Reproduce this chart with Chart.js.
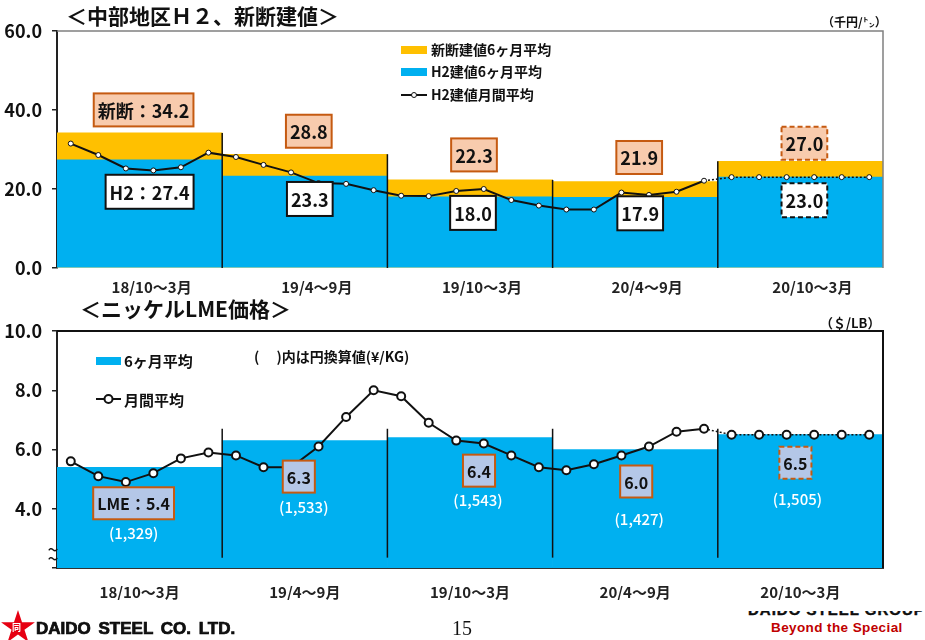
<!DOCTYPE html>
<html lang="ja">
<head>
<meta charset="UTF-8">
<title>中部地区H2、新断建値 / ニッケルLME価格</title>
<script src="https://cdn.jsdelivr.net/npm/chart.js"></script>
<style>
    body {
        margin: 0;
        width: 925px;
        height: 640px;
        background: #fff;
        overflow: hidden;
        position: relative;
        font-family: 'Noto Sans CJK JP', 'Noto Sans', sans-serif;
        color: #111;
    }
    .box { position: absolute; left: 0; width: 925px; height: 300px; }
    .title { position: absolute; font-weight: bold; font-size: 21px; line-height: 1; white-space: nowrap; }
    .unit { position: absolute; font-weight: bold; font-size: 12px; line-height: 1; white-space: nowrap; }
    .footer { position: absolute; white-space: nowrap; line-height: 1; }
</style>
</head>
<body>
<div class="box" style="top:0"><canvas id="h2Chart"></canvas></div>
<div class="box" style="top:300px"><canvas id="niChart"></canvas></div>

<div class="title" style="left:66px; top:5px">＜中部地区Ｈ２、新断建値＞</div>
<div class="unit" style="left:822px; top:16px">（千円/㌧）</div>
<div class="title" style="left:80px; top:298px">＜ニッケルLME価格＞</div>
<div class="unit" style="left:820px; top:316px; font-size:13px">（＄/LB）</div>

<div class="footer" style="left:0; top:606px; color:#e60012; font-size:36px">★</div>
<div class="footer" style="left:12px; top:623px; color:#fff; font-size:9px; font-weight:bold">同</div>
<div class="footer" style="left:36px; top:620px; font-family:'Liberation Sans', Arial, sans-serif; font-weight:bold; font-size:17px; word-spacing:3px; -webkit-text-stroke:0.7px #000">DAIDO STEEL CO. LTD.</div>
<div class="footer" style="left:452px; top:618px; font-family:'Liberation Serif', serif; font-size:20px">15</div>
<div class="footer" style="left:748px; top:611px; width:176px; height:7px; overflow:hidden">
    <div style="margin-top:-9px; font-family:'Liberation Sans', Arial, sans-serif; font-weight:bold; font-size:15px; letter-spacing:1px; -webkit-text-stroke:0.4px #000">DAIDO STEEL GROUP</div>
</div>
<div class="footer" style="left:771px; top:621px; color:#c00000; font-family:'Liberation Sans', Arial, sans-serif; font-weight:bold; font-size:13.5px; letter-spacing:0.4px">Beyond the Special</div>

<script>
// half-year periods (the last one is an estimate)
const periods = ['18/10～3月', '19/4～9月', '19/10～3月', '20/4～9月', '20/10～3月'];
const estimateIdx = 4;

// H2 / 新断 (千円/㌧)
const scrapAvg = [34.2, 28.8, 22.3, 21.9, 27.0];
const h2Avg = [27.4, 23.3, 18.0, 17.9, 23.0];
const h2Monthly = [31.5, 28.6, 25.2, 24.7, 25.5, 29.2,
                   28.1, 26.1, 24.2, 21.5, 21.3, 19.7,
                   18.3, 18.2, 19.5, 20.0, 17.2, 15.8,
                   14.8, 14.8, 19.1, 18.5, 19.3, 22.1,
                   23.0, 23.0, 23.0, 23.0, 23.0, 23.0];
const h2Ticks = [0, 20, 40, 60];

// nickel LME ($/LB), yen equivalent (¥/KG)
const nickelAvg = [5.4, 6.3, 6.4, 6.0, 6.5];
const nickelYen = ['(1,329)', '(1,533)', '(1,543)', '(1,427)', '(1,505)'];
const nickelMonthly = [5.6, 5.1, 4.9, 5.2, 5.7, 5.9,
                       5.8, 5.4, 5.4, 6.1, 7.1, 8.0,
                       7.8, 6.9, 6.3, 6.2, 5.8, 5.4,
                       5.3, 5.5, 5.8, 6.1, 6.6, 6.7,
                       6.5, 6.5, 6.5, 6.5, 6.5, 6.5];
const nickelTicks = [2, 4, 6, 8, 10];

const BLUE = '#00b0f0';
const YELLOW = '#ffc000';
const PEACH = '#f8cbad';
const RUST = '#c55a11';
const LILAC = '#b4c7e7';
const FONT = "'Noto Sans CJK JP', 'Noto Sans', sans-serif";

Chart.defaults.font.family = FONT;
Chart.defaults.color = '#111';

// months go on a hidden linear axis so six points sit inside each period bar
const toPoints = arr => arr.map((v, i) => ({ x: i, y: v }));
const lastActual = estimateIdx * 6 - 1;

function drawTag(ctx, text, cx, cy, st) {
    ctx.save();
    ctx.font = st.font;
    const w = ctx.measureText(text).width + st.padX * 2;
    const h = st.h;
    ctx.fillStyle = st.fill;
    ctx.fillRect(cx - w / 2, cy - h / 2, w, h);
    ctx.lineWidth = st.lineWidth;
    ctx.strokeStyle = st.stroke;
    ctx.setLineDash(st.dashed ? [5, 3] : []);
    ctx.strokeRect(cx - w / 2, cy - h / 2, w, h);
    ctx.setLineDash([]);
    ctx.fillStyle = st.color || '#111';
    ctx.textAlign = 'center';
    ctx.textBaseline = 'middle';
    ctx.fillText(text, cx, cy + 1);
    ctx.restore();
}

function drawFrame(ctx, area, color, width) {
    ctx.save();
    ctx.strokeStyle = color;
    ctx.lineWidth = width;
    ctx.beginPath();
    ctx.moveTo(area.left, area.top);
    ctx.lineTo(area.right, area.top);
    ctx.lineTo(area.right, area.bottom);
    ctx.stroke();
    ctx.restore();
}

function drawSeparators(chart, topVal, bottomVal) {
    const { ctx, scales: { x, y } } = chart;
    ctx.save();
    ctx.strokeStyle = '#111';
    ctx.lineWidth = 1.5;
    for (let i = 0; i < periods.length - 1; i++) {
        const px = (x.getPixelForValue(i) + x.getPixelForValue(i + 1)) / 2;
        ctx.beginPath();
        ctx.moveTo(px, y.getPixelForValue(topVal(i)));
        ctx.lineTo(px, y.getPixelForValue(bottomVal));
        ctx.stroke();
    }
    ctx.restore();
}

function lineSample(ctx, x0, x1, y, r, lw) {
    ctx.save();
    ctx.strokeStyle = '#111';
    ctx.lineWidth = lw;
    ctx.beginPath();
    ctx.moveTo(x0, y);
    ctx.lineTo(x1, y);
    ctx.stroke();
    ctx.beginPath();
    ctx.arc((x0 + x1) / 2, y, r, 0, Math.PI * 2);
    ctx.fillStyle = '#fff';
    ctx.fill();
    ctx.lineWidth = r > 3 ? 2 : 1;
    ctx.stroke();
    ctx.restore();
}

function legendText(ctx, text, x, y, size) {
    ctx.save();
    ctx.font = 'bold ' + size + 'px ' + FONT;
    ctx.fillStyle = '#111';
    ctx.textBaseline = 'middle';
    ctx.fillText(text, x, y);
    ctx.restore();
}

function scaleOptions(yMin, yMax, ticks, fmt, xPad, xOffset, xBorder) {
    return {
        x: {
            type: 'category',
            offset: true,
            grid: { display: false },
            border: { display: xBorder, color: '#333', width: 2 },
            ticks: { font: { size: 15, weight: 'bold' }, color: '#222', padding: xPad, labelOffset: xOffset },
            afterFit: s => { s.height = 32; }
        },
        xm: { type: 'linear', min: -0.5, max: 29.5, display: false },
        y: {
            min: yMin,
            max: yMax,
            afterBuildTicks: s => { s.ticks = ticks.map(v => ({ value: v })); },
            ticks: { font: { size: 18, weight: 'bold' }, color: '#111', padding: 10, callback: fmt },
            grid: { drawOnChartArea: false, tickLength: 5, color: '#222', lineWidth: 1.5 },
            border: { color: '#222', width: 2 },
            afterFit: s => { s.width = 57; }
        }
    };
}

function barSet(data, color, order) {
    return {
        type: 'bar', data, backgroundColor: color, borderWidth: 0, order,
        grouped: false, barPercentage: 1, categoryPercentage: 1
    };
}

function monthlyLine(data, radius, width) {
    return {
        type: 'line', xAxisID: 'xm', data: toPoints(data), order: 1,
        borderColor: '#111', borderWidth: width, tension: 0,
        pointRadius: radius, pointBackgroundColor: '#fff', pointBorderColor: '#111',
        pointBorderWidth: radius > 3 ? 2 : 1,
        segment: {
            borderDash: c => c.p0DataIndex >= lastActual ? [2, 2] : undefined,
            borderWidth: c => c.p0DataIndex >= lastActual ? 1.5 : undefined
        }
    };
}

// ---------- H2 / 新断 ----------
const scrapDy = [-23, -23, -25, -24, -18];
const h2Dx = [10, 5, 3, 5, 4];
const h2Dy = [32, 23, 16, 16, 23];

new Chart(document.getElementById('h2Chart'), {
    data: {
        labels: periods,
        datasets: [
            { ...barSet(scrapAvg, YELLOW, 3), label: '新断建値6ヶ月平均' },
            { ...barSet(h2Avg, BLUE, 2), label: 'H2建値6ヶ月平均' },
            { ...monthlyLine(h2Monthly, 2.5, 2), label: 'H2建値月間平均' }
        ]
    },
    options: {
        responsive: true,
        maintainAspectRatio: false,
        animation: false,
        layout: { padding: { top: 31, right: 42, left: 0, bottom: 0 } },
        plugins: { legend: { display: false }, tooltip: { enabled: false } },
        scales: scaleOptions(0, 60, h2Ticks, v => v.toFixed(1), 2, 12, false)
    },
    plugins: [{
        id: 'h2Extras',
        afterDatasetsDraw(chart) {
            const { ctx, chartArea, scales: { x, y } } = chart;
            drawFrame(ctx, chartArea, '#808080', 1.5);
            drawSeparators(chart, i => Math.max(scrapAvg[i], scrapAvg[i + 1]), 0);
            const font = 'bold 18px ' + FONT;
            periods.forEach((p, i) => {
                const cx = x.getPixelForValue(i);
                const dashed = i === estimateIdx;
                drawTag(ctx, (i === 0 ? '新断：' : '') + scrapAvg[i].toFixed(1),
                    cx + 4, y.getPixelForValue(scrapAvg[i]) + scrapDy[i],
                    { font, padX: 4, h: 33, fill: PEACH, stroke: RUST, lineWidth: 2, dashed });
                drawTag(ctx, (i === 0 ? 'H2：' : '') + h2Avg[i].toFixed(1),
                    cx + h2Dx[i], y.getPixelForValue(h2Avg[i]) + h2Dy[i],
                    { font, padX: 4, h: 34, fill: '#fff', stroke: '#111', lineWidth: 2, dashed });
            });
            // legend
            ctx.fillStyle = YELLOW;
            ctx.fillRect(401, 46, 26, 8);
            ctx.fillStyle = BLUE;
            ctx.fillRect(401, 68, 26, 8);
            lineSample(ctx, 401, 427, 95, 2.5, 2);
            const labels = chart.data.datasets.map(d => d.label);
            legendText(ctx, labels[0], 431, 50, 14);
            legendText(ctx, labels[1], 431, 72, 14);
            legendText(ctx, labels[2], 431, 95, 14);
        }
    }]
});

// ---------- nickel LME ----------
const tagDx = [-6, -6, 9, 1, -5];
const tagDy = [36, 36, 33, 32, 28];
const yenDx = [-6, -1, 8, 4, -3];
const yenDy = [66, 67, 63, 70, 65];

new Chart(document.getElementById('niChart'), {
    data: {
        labels: periods,
        datasets: [
            { ...barSet(nickelAvg, BLUE, 2), label: '6ヶ月平均' },
            { ...monthlyLine(nickelMonthly, 4, 2), label: '月間平均' }
        ]
    },
    options: {
        responsive: true,
        maintainAspectRatio: false,
        animation: false,
        layout: { padding: { top: 31, right: 42, left: 0, bottom: 0 } },
        plugins: { legend: { display: false }, tooltip: { enabled: false } },
        scales: scaleOptions(2, 10, nickelTicks, v => v === 2 ? '' : v.toFixed(1), 7, 0, true)
    },
    plugins: [{
        id: 'nickelExtras',
        afterDatasetsDraw(chart) {
            const { ctx, chartArea, scales: { x, y } } = chart;
            drawFrame(ctx, chartArea, '#111', 2);
            drawSeparators(chart, () => 6.7, 2.35);
            periods.forEach((p, i) => {
                const cx = x.getPixelForValue(i);
                const top = y.getPixelForValue(nickelAvg[i]);
                drawTag(ctx, (i === 0 ? 'LME：' : '') + nickelAvg[i].toFixed(1),
                    cx + tagDx[i], top + tagDy[i],
                    { font: 'bold 16px ' + FONT, padX: 4, h: 32, fill: LILAC, stroke: RUST, lineWidth: 2, dashed: i === estimateIdx });
                ctx.save();
                ctx.font = '500 15px ' + FONT;
                ctx.fillStyle = '#fff';
                ctx.textAlign = 'center';
                ctx.textBaseline = 'middle';
                ctx.fillText(nickelYen[i], cx + yenDx[i], top + yenDy[i]);
                ctx.restore();
            });
            // axis break mark
            ctx.save();
            ctx.font = '20px ' + FONT;
            ctx.fillStyle = '#111';
            ctx.textAlign = 'center';
            ctx.textBaseline = 'middle';
            ctx.fillText('~', 53, 249);
            ctx.fillText('~', 53, 258);
            ctx.restore();
            // legend and note
            ctx.fillStyle = BLUE;
            ctx.fillRect(96, 57, 25, 8);
            lineSample(ctx, 96, 121, 99, 4, 2);
            legendText(ctx, chart.data.datasets[0].label, 124, 61, 15);
            legendText(ctx, chart.data.datasets[1].label, 124, 100, 15);
            legendText(ctx, '(　 )内は円換算値(¥/KG)', 254, 57, 14);
        }
    }]
});
</script>
</body>
</html>
